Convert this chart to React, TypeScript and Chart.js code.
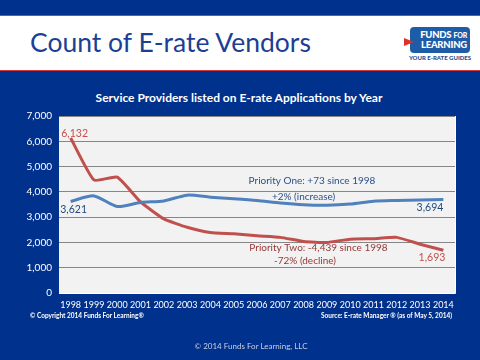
import React, { useEffect, useRef } from 'react';
import { Chart, registerables } from 'chart.js';

Chart.register(...registerables);

const years = ['1998', '1999', '2000', '2001', '2002', '2003', '2004', '2005', '2006', '2007', '2008', '2009', '2010', '2011', '2012', '2013', '2014'];
const priorityOne = [3621, 3840, 3420, 3580, 3640, 3870, 3790, 3730, 3660, 3560, 3490, 3470, 3520, 3630, 3660, 3680, 3694];
const priorityTwo = [6132, 4470, 4580, 3600, 2930, 2600, 2390, 2340, 2260, 2200, 2040, 2000, 2130, 2150, 2200, 1930, 1693];
const yMax = 7000;
const yStep = 1000;

const BLUE_BG = '#00318c';
const LINE_BLUE = '#4F81BD';
const LINE_RED = '#C0504D';
const TEXT_BLUE = '#1F497D';
const TEXT_RED = '#953735';
const FONT = 'Lato, "Open Sans", sans-serif';

const fmt = (v: number) => v.toLocaleString('en-US');

// point labels: which dataset/index, and offsets relative to the point
const pointLabels = [
  { ds: 1, idx: 0, color: LINE_RED, align: 'center', dx: 4, dy: -4 },
  { ds: 0, idx: 0, color: TEXT_BLUE, align: 'center', dx: 3, dy: 8 },
  { ds: 0, idx: 16, color: TEXT_BLUE, align: 'right', dx: 0, dy: 8 },
  { ds: 1, idx: 16, color: LINE_RED, align: 'right', dx: 2, dy: 7 },
];

// annotation texts anchored in data space (category index, value)
const notes = [
  { text: 'Priority One: +73 since 1998', x: 10.36, y: 4445, color: '#2B4F8C' },
  { text: '+2% (increase)', x: 10.0, y: 3800, color: '#2B4F8C' },
  { text: 'Priority Two: -4,439 since 1998', x: 10.64, y: 1790, color: TEXT_RED },
  { text: '-72% (decline)', x: 10.06, y: 1290, color: TEXT_RED },
];

const plotPlugin = {
  id: 'plotDecor',
  beforeDraw(chart: any) {
    const { ctx, chartArea } = chart;
    const { left, top, right, bottom } = chartArea;
    ctx.save();
    ctx.fillStyle = '#f2f2f2';
    ctx.fillRect(left, top, right - left, bottom - top);
    ctx.restore();
  },
  afterDatasetsDraw(chart: any) {
    const { ctx, chartArea, scales } = chart;
    ctx.save();
    ctx.strokeStyle = '#ffffff';
    ctx.lineWidth = 1;
    ctx.beginPath();
    ctx.moveTo(chartArea.right + 0.5, chartArea.top);
    ctx.lineTo(chartArea.right + 0.5, chartArea.bottom + 0.5);
    ctx.lineTo(chartArea.left, chartArea.bottom + 0.5);
    ctx.stroke();

    ctx.textBaseline = 'middle';
    ctx.font = `10.5px ${FONT}`;
    pointLabels.forEach((l) => {
      const meta = chart.getDatasetMeta(l.ds);
      const pt = meta.data[l.idx];
      const value = chart.data.datasets[l.ds].data[l.idx] as number;
      ctx.fillStyle = l.color;
      ctx.textAlign = l.align;
      ctx.fillText(fmt(value), pt.x + l.dx, pt.y + l.dy);
    });

    ctx.font = `10px ${FONT}`;
    ctx.textAlign = 'center';
    notes.forEach((n) => {
      ctx.fillStyle = n.color;
      ctx.fillText(n.text, scales.x.getPixelForValue(n.x), scales.y.getPixelForValue(n.y));
    });
    ctx.restore();
  },
};

function ChartCanvas() {
  const ref = useRef<HTMLCanvasElement>(null);
  useEffect(() => {
    if (!ref.current) return;
    const chart = new Chart(ref.current, {
      type: 'line',
      data: {
        labels: years,
        datasets: [
          {
            label: 'Priority One',
            data: priorityOne,
            borderColor: LINE_BLUE,
            borderWidth: 3,
            pointRadius: 0,
            tension: 0.25,
            fill: false,
          },
          {
            label: 'Priority Two',
            data: priorityTwo,
            borderColor: LINE_RED,
            borderWidth: 3,
            pointRadius: 0,
            tension: 0.15,
            fill: false,
          },
        ],
      },
      options: {
        responsive: false,
        animation: false,
        devicePixelRatio: 1,
        layout: { padding: { left: 8, top: 116, right: 25, bottom: 45 } },
        plugins: {
          legend: { display: false },
          title: { display: false },
          tooltip: { enabled: false },
        },
        scales: {
          x: {
            offset: true,
            grid: { display: false, drawTicks: false },
            border: { display: false },
            ticks: {
              color: '#ffffff',
              font: { family: FONT, size: 9 },
              padding: 7,
              autoSkip: false,
              maxRotation: 0,
            },
            afterFit: (s: any) => { s.height = 22; },
          },
          y: {
            min: 0,
            max: yMax,
            grid: {
              drawTicks: false,
              color: (c: any) => (c.tick && c.tick.value === 0 ? 'rgba(0,0,0,0)' : '#868686'),
              lineWidth: 1,
            },
            border: { display: false },
            ticks: {
              stepSize: yStep,
              color: '#ffffff',
              font: { family: FONT, size: 10 },
              padding: 7,
              callback: (v: any) => fmt(Number(v)),
            },
            afterFit: (s: any) => { s.width = 51; },
          },
        },
      },
      plugins: [plotPlugin],
    });
    return () => chart.destroy();
  }, []);
  return (
    <canvas
      ref={ref}
      width={480}
      height={360}
      style={{ position: 'absolute', left: 0, top: 0, width: 480, height: 360 }}
    />
  );
}

export default function App() {
  return (
    <div
      style={{
        position: 'fixed',
        left: 0,
        top: 0,
        width: 480,
        height: 360,
        overflow: 'hidden',
        background: BLUE_BG,
        fontFamily: FONT,
      }}
    >
      {/* header band */}
      <div style={{ position: 'absolute', left: 0, top: 15, width: 480, height: 1, background: '#d0393b' }} />
      <div style={{ position: 'absolute', left: 0, top: 16, width: 480, height: 54, background: '#ffffff' }} />
      <div style={{ position: 'absolute', left: 0, top: 70, width: 480, height: 1, background: '#d0393b' }} />
      <div
        style={{
          position: 'absolute',
          left: 30,
          top: 29,
          fontSize: 26.5,
          lineHeight: '26px',
          color: '#1c3f94',
          whiteSpace: 'nowrap',
        }}
      >
        Count of E-rate Vendors
      </div>
      {/* logo */}
      <div
        style={{
          position: 'absolute',
          left: 410,
          top: 27,
          width: 60,
          height: 26,
          background: '#1f5ca8',
          borderRadius: 4,
          color: '#ffffff',
          fontWeight: 900,
          fontSize: 9.5,
          lineHeight: '10px',
          textAlign: 'right',
          paddingTop: 3,
          paddingRight: 3,
          boxSizing: 'border-box',
          letterSpacing: -0.2,
        }}
      >
        <div>FUNDS <span style={{ fontSize: 7 }}>FOR</span></div>
        <div>LEARNING</div>
      </div>
      <div
        style={{
          position: 'absolute',
          left: 404,
          top: 38,
          width: 0,
          height: 0,
          borderTop: '4px solid transparent',
          borderBottom: '4px solid transparent',
          borderLeft: '10px solid #e0302a',
        }}
      />
      <div
        style={{
          position: 'absolute',
          left: 408,
          top: 54,
          width: 64,
          textAlign: 'center',
          color: '#1f4f93',
          fontWeight: 900,
          fontSize: 6,
          lineHeight: '7px',
          whiteSpace: 'nowrap',
        }}
      >
        YOUR E-RATE GUIDES
      </div>
      {/* chart title */}
      <div
        style={{
          position: 'absolute',
          left: 0,
          top: 91,
          width: 478,
          textAlign: 'center',
          color: '#ffffff',
          fontWeight: 700,
          fontSize: 12,
          lineHeight: '14px',
          whiteSpace: 'nowrap',
        }}
      >
        Service Providers listed on E-rate Applications by Year
      </div>
      <ChartCanvas />
      {/* footnotes */}
      <div
        style={{
          position: 'absolute',
          left: 30,
          top: 312,
          color: '#ffffff',
          fontWeight: 700,
          fontSize: 6.5,
          lineHeight: '8px',
          whiteSpace: 'nowrap',
        }}
      >
        © Copyright 2014 Funds For Learning®
      </div>
      <div
        style={{
          position: 'absolute',
          right: 28,
          top: 312,
          color: '#ffffff',
          fontWeight: 700,
          fontSize: 6.5,
          lineHeight: '8px',
          whiteSpace: 'nowrap',
        }}
      >
        Source: E-rate Manager ® (as of May 5, 2014)
      </div>
      <div
        style={{
          position: 'absolute',
          left: 0,
          top: 341,
          width: 502,
          textAlign: 'center',
          color: '#c9cfe2',
          fontSize: 8,
          lineHeight: '10px',
          whiteSpace: 'nowrap',
        }}
      >
        © 2014 Funds For Learning, LLC
      </div>
    </div>
  );
}
